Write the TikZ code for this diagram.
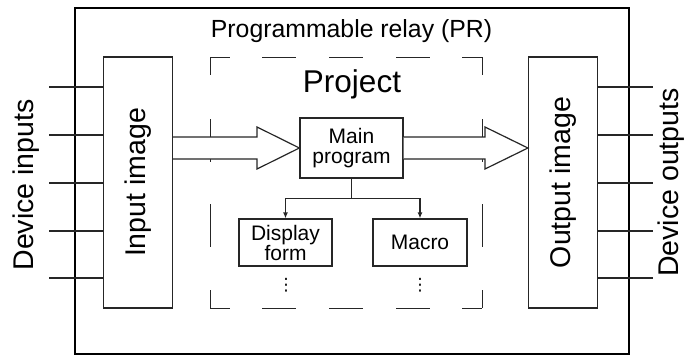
\documentclass[tikz,border=0pt]{standalone}
\usepackage{fontspec}
\setmainfont{Liberation Sans}
\newfontfamily\symfont{DejaVu Sans}
\usetikzlibrary{arrows.meta,calc}
\begin{document}
\begin{tikzpicture}[x=1pt,y=-1pt,
  frame/.style={draw=black, line width=2pt, inner sep=0pt},
  imgbox/.style={draw=black!85, line width=1.2pt, fill=white, minimum width=69pt, minimum height=251pt, inner sep=0pt},
  smallbox/.style={draw=black!85, line width=1.2pt, fill=white, align=center, inner sep=0pt, font=\fontsize{21}{20}\selectfont},
  wire/.style={draw=black!85, line width=1.2pt},
  bigarrow/.style={draw=black!85, line width=1.2pt, fill=white},
  dashside/.style={draw=black!85, line width=1.2pt, line cap=rect},
  hdash/.style={dash pattern=on 19pt off 33pt on 33pt off 34pt on 33pt off 34pt on 33pt off 33pt on 19pt off 10pt},
  vdash/.style={dash pattern=on 17pt off 45pt on 42pt off 43pt on 42pt off 44pt on 17pt off 10pt},
  subarrow/.style={wire, -{Latex[length=6pt,width=5pt]}},
  biglabel/.style={font=\fontsize{28.5}{29}\selectfont},
  dotlabel/.style={inner sep=0pt, font=\symfont\fontsize{17}{17}\selectfont}
]
\useasboundingbox (0,0) rectangle (685,356);

% outer frame
\node[frame, minimum width=554pt, minimum height=346pt] (pr) at (351.5,181) {};
\node[anchor=base, font=\fontsize{24.8}{28}\selectfont] (prlabel) at (351.5,37) {Programmable relay (PR)};

% project region
\node[minimum width=271pt, minimum height=250pt, inner sep=0pt] (proj) at (346.5,183) {};
\draw[dashside, hdash] (proj.north west) -- (proj.north east);
\draw[dashside, hdash] (proj.south west) -- (proj.south east);
\draw[dashside, vdash] (proj.north west) -- (proj.south west);
\draw[dashside, vdash] (proj.north east) -- (proj.south east);
\node[anchor=base, font=\fontsize{31.5}{34}\selectfont] (projlabel) at (352,92) {Project};

% image boxes
\node[imgbox] (inimg) at (138,182.5) {\rotatebox{90}{\fontsize{28.5}{29}\selectfont Input image}};
\node[imgbox] (outimg) at (563,182.5) {\rotatebox{90}{\fontsize{28.5}{29}\selectfont Output image}};

% device labels
\node[biglabel, rotate=90, anchor=base] (devin) at (33,185) {Device inputs};
\node[biglabel, rotate=90, anchor=base] (devout) at (678,182.5) {Device outputs};

% device wires
\foreach \i/\y in {1/87,2/135,3/183,4/231,5/278} {
  \coordinate (in\i) at (49,\y);
  \coordinate (out\i) at (653,\y);
  \draw[wire] (in\i) -- (inimg.west |- in\i);
  \draw[wire] (outimg.east |- out\i) -- (out\i);
}

% program boxes
\node[smallbox, minimum width=103pt, minimum height=60pt] (main) at (351.5,148) {Main\\program};
\node[smallbox, minimum width=93pt, minimum height=47pt] (disp) at (285.5,242.5) {Display\\form};
\node[smallbox, minimum width=94pt, minimum height=47pt] (macro) at (420,242.5) {Macro};
\node[dotlabel] (dots1) at (286,285.5) {⋮};
\node[dotlabel] (dots2) at (420,285.5) {⋮};

% big arrows
\coordinate (lt) at (inimg.east |- main.west);
\draw[bigarrow] ($(lt)+(0,-11)$) -- (257,137) -- (257,127) -- (main.west) -- (257,169) -- (257,159) -- ($(lt)+(0,11)$);
\coordinate (rt) at (outimg.west |- main.east);
\draw[bigarrow] ($(main.east)+(0,-11)$) -- (485,137) -- (485,127) -- (rt) -- (485,169) -- (485,159) -- ($(main.east)+(0,11)$);

% sub arrows
\draw[subarrow] (main.south) -- ++(0,20) -| (disp.north);
\draw[subarrow] (main.south) -- ++(0,20) -| (macro.north);
\end{tikzpicture}
\end{document}
